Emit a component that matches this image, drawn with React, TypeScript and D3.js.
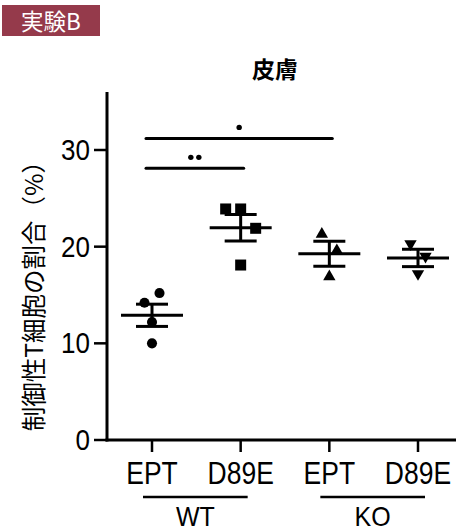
import React, { useEffect, useRef } from 'react';
import * as d3 from 'd3';

// groups along the x axis
const categories = ['WT EPT', 'WT D89E', 'KO EPT', 'KO D89E'];
const tickLabels = ['EPT', 'D89E', 'EPT', 'D89E'];
const genotypes = ['WT', 'KO'];

// per-animal values (%), in data-entry order
const wtEpt = [14.2, 15.2, 12.2, 10.0];
const wtD89e = [23.9, 23.9, 21.9, 18.1];
const koEpt = [21.3, 19.6, 16.9];
const koD89e = [20.3, 19.0, 17.2];

const yTicks = [0, 10, 20, 30];

// significance brackets
const brackets = [
    { from: 'WT EPT', to: 'KO EPT', level: 31.2, stars: 1 },
    { from: 'WT EPT', to: 'WT D89E', level: 28.1, stars: 2 },
];

const W = 458, H = 532;
const latin = '"Liberation Sans", Arial, sans-serif';
const cjk = '"Noto Sans CJK JP", "Noto Sans", sans-serif';

export default function App() {
    const ref = useRef<SVGSVGElement>(null);

    useEffect(() => {
        const svg = d3.select(ref.current);
        svg.selectAll('*').remove();

        const series = [
            { key: 'WT EPT', values: wtEpt, symbol: d3.symbolCircle, size: 80, rot: 0 },
            { key: 'WT D89E', values: wtD89e, symbol: d3.symbolSquare, size: 121, rot: 0 },
            { key: 'KO EPT', values: koEpt, symbol: d3.symbolTriangle, size: 66, rot: 0 },
            { key: 'KO D89E', values: koD89e, symbol: d3.symbolTriangle, size: 66, rot: 180 },
        ];

        const y = d3.scaleLinear().domain([0, 36]).range([440, 92]);
        const x = d3.scalePoint<string>().domain(categories).range([152, 418]);
        const axisX0 = 107, axisX1 = 456;

        // badge
        svg.append('rect').attr('x', 2).attr('y', 5).attr('width', 98).attr('height', 31).attr('fill', '#953a4b');
        svg.append('text').attr('x', 51).attr('y', 29.5).attr('text-anchor', 'middle')
            .style('font-family', cjk).style('font-size', '22.5px').attr('fill', '#fff').text('実験B');

        // title
        svg.append('text').attr('x', 275).attr('y', 78).attr('text-anchor', 'middle')
            .style('font-family', cjk).style('font-size', '23px').style('font-weight', 700).text('皮膚');

        // y axis
        svg.append('line').attr('x1', axisX0).attr('x2', axisX0).attr('y1', y(36)).attr('y2', y(0) + 1.5)
            .attr('stroke', '#000').attr('stroke-width', 3);
        yTicks.forEach(t => {
            svg.append('line').attr('x1', 94).attr('x2', axisX0).attr('y1', y(t)).attr('y2', y(t))
                .attr('stroke', '#000').attr('stroke-width', 2.5);
            svg.append('text').attr('transform', `translate(90,${y(t)}) scale(1,1.1)`).attr('text-anchor', 'end')
                .attr('dominant-baseline', 'central')
                .style('font-family', latin).style('font-size', '26px').text(t);
        });
        svg.append('text').attr('transform', 'translate(32,290) rotate(-90)')
            .attr('text-anchor', 'middle').attr('dominant-baseline', 'central')
            .style('font-family', cjk).style('font-size', '24.5px').text('制御性T細胞の割合（%）');

        // x axis
        svg.append('line').attr('x1', axisX0 - 1.5).attr('x2', axisX1).attr('y1', y(0)).attr('y2', y(0))
            .attr('stroke', '#000').attr('stroke-width', 3);
        categories.forEach((c, i) => {
            svg.append('line').attr('x1', x(c)).attr('x2', x(c)).attr('y1', y(0)).attr('y2', y(0) + 12)
                .attr('stroke', '#000').attr('stroke-width', 2.5);
            svg.append('text').attr('transform', `translate(${x(c)},484) scale(1,1.18)`).attr('text-anchor', 'middle')
                .style('font-family', latin).style('font-size', '26.5px').text(tickLabels[i]);
        });
        genotypes.forEach((g, i) => {
            const a = x(categories[i * 2])!, b = x(categories[i * 2 + 1])!;
            svg.append('line').attr('x1', a - 9).attr('x2', b + 7).attr('y1', 497).attr('y2', 497)
                .attr('stroke', '#000').attr('stroke-width', 2.5);
            svg.append('text').attr('transform', `translate(${(a + b) / 2 - 1},526) scale(1,1.1)`).attr('text-anchor', 'middle')
                .style('font-family', latin).style('font-size', '25px').text(g);
        });

        // brackets
        brackets.forEach(br => {
            const a = x(br.from)! - 6, b = x(br.to)! + 3, ly = y(br.level);
            svg.append('line').attr('x1', a).attr('x2', b).attr('y1', ly).attr('y2', ly)
                .attr('stroke', '#000').attr('stroke-width', 3).attr('stroke-linecap', 'round');
            const mid = (a + b) / 2;
            d3.range(br.stars).forEach(k => {
                svg.append('circle').attr('cx', mid + (k - (br.stars - 1) / 2) * 8).attr('cy', ly - 11)
                    .attr('r', 2.7).attr('fill', '#000');
            });
        });

        // points + mean ± SEM
        const spread = 7.5, near = 20;
        series.forEach(s => {
            const cx = x(s.key)!;
            // place points that sit close together side by side
            const order = s.values.map((v, i) => i).sort((a, b) => s.values[b] - s.values[a]);
            const dx = new Array(s.values.length).fill(0);
            let i = 0;
            while (i < order.length) {
                const first = order[i];
                let j = i + 1;
                while (j < order.length && Math.abs(y(s.values[order[j]]) - y(s.values[first])) < near) j++;
                const members = order.slice(i, j).sort((a, b) => a - b);
                members.forEach((m, k) => { dx[m] = (k - (members.length - 1) / 2) * spread * 2; });
                i = j;
            }

            const sym = d3.symbol().type(s.symbol).size(s.size);
            svg.append('g').selectAll('path').data(s.values).enter().append('path')
                .attr('d', sym)
                .attr('transform', (d, k) => `translate(${cx + dx[k]},${y(d)}) rotate(${s.rot})`)
                .attr('fill', '#000');

            const m = d3.mean(s.values)!;
            const sem = d3.deviation(s.values)! / Math.sqrt(s.values.length);
            const g = svg.append('g').attr('stroke', '#000').attr('stroke-width', 3);
            g.append('line').attr('x1', cx - 31).attr('x2', cx + 31).attr('y1', y(m)).attr('y2', y(m));
            g.append('line').attr('x1', cx - 16).attr('x2', cx + 16).attr('y1', y(m + sem)).attr('y2', y(m + sem));
            g.append('line').attr('x1', cx - 16).attr('x2', cx + 16).attr('y1', y(m - sem)).attr('y2', y(m - sem));
            g.append('line').attr('x1', cx).attr('x2', cx).attr('y1', y(m + sem)).attr('y2', y(m - sem));
        });
    }, []);

    return (
        <svg ref={ref} width={W} height={H}
            style={{ position: 'absolute', left: 0, top: 0, background: '#fff' }} />
    );
}
